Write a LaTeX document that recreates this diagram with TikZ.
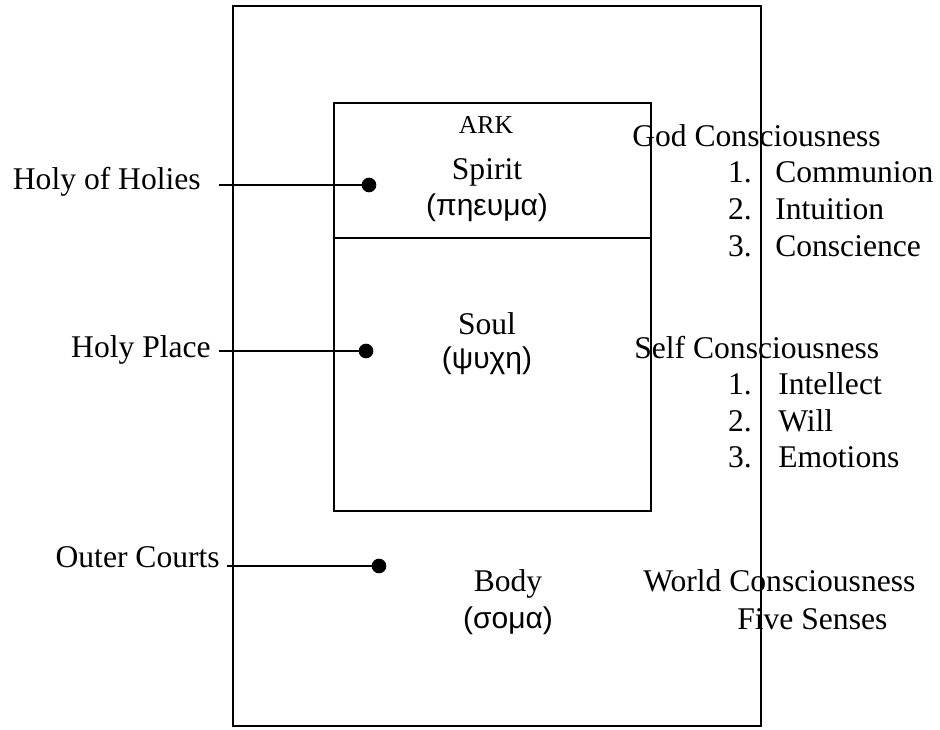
\documentclass[tikz,border=0pt]{standalone}
\usepackage{fontspec}
\setmainfont{Liberation Serif}
\newfontfamily\grk{Liberation Sans}
\begin{document}
\begin{tikzpicture}[x=0.75pt,y=-0.75pt,
  lbl/.style={inner sep=0pt,font=\fontsize{23.7}{28}\selectfont},
  glbl/.style={inner sep=0pt,font=\fontsize{22.5}{27}\selectfont\grk},
  frame/.style={draw=black,line width=1.5pt},
  conn/.style={draw=black,line width=1.1pt},
  dotnode/.style={circle,fill=black,inner sep=0pt,minimum size=11pt}]
\useasboundingbox (0,0) rectangle (940,730);
% rectangles
\draw[frame] (233,6) rectangle (761,726);
\draw[frame] (334,103) rectangle (651,511);
\draw[frame] (334,238) -- (651,238);
% inner texts
\node[inner sep=0pt,font=\fontsize{19.3}{23}\selectfont,anchor=base] (ark) at (486,134) {ARK};
\node[lbl,anchor=base] (spirit) at (487,180) {Spirit};
\node[glbl,anchor=base] (pneuma) at (487,216) {(πηευμα)};
\node[lbl,anchor=base] (soul) at (487,335) {Soul};
\node[glbl,anchor=base] (psyche) at (487,369) {(ψυχη)};
\node[lbl,anchor=base] (body) at (508,592) {Body};
\node[glbl,anchor=base] (soma) at (508,629) {(σομα)};
% left labels
\node[lbl,anchor=base east] (hoh) at (201,190) {Holy of Holies};
\node[lbl,anchor=base east] (hp) at (211,358) {Holy Place};
\node[lbl,anchor=base east] (oc) at (220,568) {Outer Courts};
\coordinate (hohs) at (219,185);
\coordinate (hps) at (219,351);
\coordinate (ocs) at (227,566);
\node[dotnode] (d1) at (369,185) {};
\node[dotnode] (d2) at (366,351) {};
\node[dotnode] (d3) at (379,566) {};
\draw[conn] (hohs) -- (d1.center);
\draw[conn] (hps) -- (d2.center);
\draw[conn] (ocs) -- (d3.center);
% right labels
\node[lbl,anchor=base west] (god) at (632,147) {God Consciousness};
\node[lbl,anchor=base east] (g1) at (752,183) {1.};
\node[lbl,anchor=base west] (g1t) at (775,183) {Communion};
\node[lbl,anchor=base east] (g2) at (752,220) {2.};
\node[lbl,anchor=base west] (g2t) at (775,220) {Intuition};
\node[lbl,anchor=base east] (g3) at (752,257) {3.};
\node[lbl,anchor=base west] (g3t) at (775,257) {Conscience};
\node[lbl,anchor=base west] (self) at (634,359) {Self Consciousness};
\node[lbl,anchor=base east] (s1) at (752,395) {1.};
\node[lbl,anchor=base west] (s1t) at (778,395) {Intellect};
\node[lbl,anchor=base east] (s2) at (752,432) {2.};
\node[lbl,anchor=base west] (s2t) at (778,432) {Will};
\node[lbl,anchor=base east] (s3) at (752,468) {3.};
\node[lbl,anchor=base west] (s3t) at (778,468) {Emotions};
\node[lbl,anchor=base west] (world) at (643,592) {World Consciousness};
\node[lbl,anchor=base west] (five) at (737,630) {Five Senses};
\end{tikzpicture}
\end{document}
